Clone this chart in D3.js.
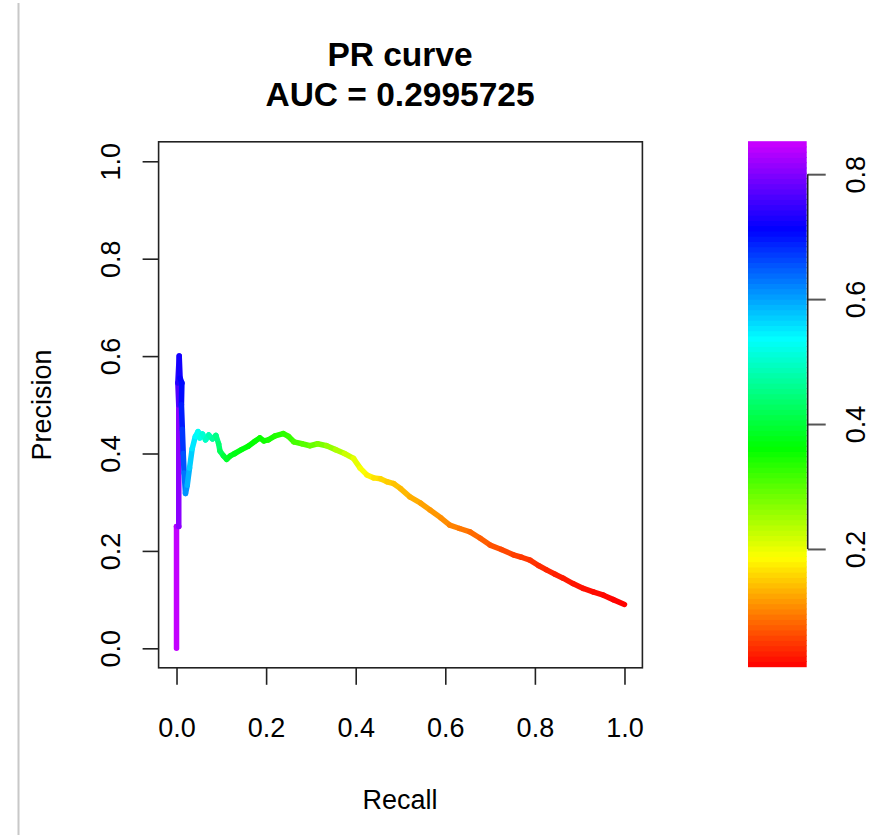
<!DOCTYPE html>
<html>
<head>
<meta charset="utf-8">
<script src="https://cdn.jsdelivr.net/npm/d3@7"></script>
<style>
  html, body { margin: 0; padding: 0; background: #fff; }
  svg { display: block; }
  text { font-family: "Liberation Sans", Arial, sans-serif; fill: #000; }
</style>
</head>
<body>
<svg id="chart" width="881" height="835"></svg>
<script>
// ---- data ----
const titleLines = ["PR curve", "AUC = 0.2995725"];
const xLabel = "Recall";
const yLabel = "Precision";
const axisTicks = [0, 0.2, 0.4, 0.6, 0.8, 1.0];
const colorTicks = [0.2, 0.4, 0.6, 0.8];
const scoreRange = [0.0115, 0.852];

const recall = [0.000,0.000,0.005,0.005,0.003,0.006,0.008,0.012,0.011,0.013,0.015,0.017,0.020,0.024,0.029,0.035,0.042,0.048,0.052,0.058,0.065,0.072,0.080,0.088,0.094,0.097,0.105,0.112,0.120,0.130,0.145,0.160,0.175,0.186,0.195,0.205,0.220,0.238,0.250,0.262,0.280,0.298,0.315,0.335,0.355,0.375,0.395,0.410,0.425,0.440,0.455,0.470,0.485,0.500,0.521,0.545,0.566,0.590,0.610,0.632,0.655,0.678,0.700,0.725,0.752,0.770,0.789,0.808,0.826,0.845,0.863,0.885,0.908,0.930,0.953,0.975,1.000];
const precision = [0.000,0.250,0.250,0.500,0.545,0.600,0.555,0.545,0.500,0.450,0.400,0.360,0.318,0.335,0.370,0.410,0.435,0.445,0.432,0.440,0.428,0.438,0.430,0.437,0.420,0.405,0.395,0.388,0.395,0.400,0.408,0.415,0.425,0.432,0.426,0.428,0.436,0.441,0.435,0.424,0.420,0.416,0.420,0.416,0.408,0.400,0.390,0.370,0.356,0.350,0.348,0.342,0.338,0.328,0.311,0.298,0.284,0.268,0.253,0.246,0.239,0.226,0.212,0.203,0.192,0.187,0.181,0.170,0.161,0.152,0.144,0.133,0.123,0.116,0.109,0.100,0.090];
const score = [0.852,0.840,0.825,0.790,0.745,0.730,0.720,0.712,0.700,0.685,0.665,0.645,0.620,0.600,0.580,0.560,0.545,0.535,0.525,0.515,0.500,0.490,0.475,0.460,0.445,0.430,0.410,0.395,0.385,0.378,0.372,0.366,0.360,0.356,0.352,0.348,0.342,0.335,0.328,0.320,0.308,0.296,0.284,0.270,0.252,0.232,0.212,0.196,0.184,0.172,0.162,0.155,0.148,0.142,0.134,0.126,0.119,0.111,0.105,0.097,0.089,0.080,0.072,0.064,0.057,0.052,0.048,0.043,0.039,0.035,0.031,0.027,0.023,0.020,0.017,0.014,0.0115];

// ---- layout ----
const svg = d3.select("#chart");
const fontSize = 27;

const x = d3.scaleLinear().domain([-0.04, 1.04]).range([158.6, 642.4]);
const y = d3.scaleLinear().domain([-0.04, 1.04]).range([667.8, 141.8]);
const hue = d3.scaleLinear().domain(scoreRange).range([0, 0.8 * 360]);
const colorOf = s => d3.hsl(hue(s), 1, 0.5).formatHex();

// left gray separator line
svg.append("line").attr("x1", 18.5).attr("x2", 18.5).attr("y1", 3).attr("y2", 835)
  .attr("stroke", "#c8c8c8").attr("stroke-width", 2);

// titles
svg.selectAll("text.title").data(titleLines).join("text")
  .attr("class", "title")
  .attr("x", 400).attr("y", (d, i) => 66 + i * 40)
  .attr("text-anchor", "middle")
  .attr("font-weight", "bold")
  .attr("font-size", 33.5)
  .text(d => d);

// curve segments colored by score
const pts = recall.map((r, i) => ({ r, p: precision[i], s: score[i] }));
const segs = d3.pairs(pts);
svg.append("g").selectAll("line").data(segs).join("line")
  .attr("x1", d => x(d[0].r)).attr("y1", d => y(d[0].p))
  .attr("x2", d => x(d[1].r)).attr("y2", d => y(d[1].p))
  .attr("stroke", d => colorOf((d[0].s + d[1].s) / 2))
  .attr("stroke-width", 5.5)
  .attr("stroke-linecap", "round");

// box
svg.append("rect")
  .attr("x", x(-0.04)).attr("y", y(1.04))
  .attr("width", x(1.04) - x(-0.04)).attr("height", y(-0.04) - y(1.04))
  .attr("fill", "none").attr("stroke", "#222").attr("stroke-width", 1.6);

// x axis
const gx = svg.append("g").attr("transform", `translate(0,${y(-0.04)})`)
  .call(d3.axisBottom(x).tickValues(axisTicks).tickFormat(d3.format(".1f")).tickSize(17));
gx.select(".domain").remove();
gx.selectAll(".tick line").attr("stroke", "#222").attr("stroke-width", 1.6);
gx.selectAll(".tick text").attr("y", 69).attr("dy", null)
  .attr("font-size", fontSize).attr("font-family", "Liberation Sans, Arial, sans-serif").attr("fill", "#111");

// y axis
const gy = svg.append("g").attr("transform", `translate(${x(-0.04)},0)`)
  .call(d3.axisLeft(y).tickValues(axisTicks).tickFormat(d3.format(".1f")).tickSize(16));
gy.select(".domain").remove();
gy.selectAll(".tick line").attr("stroke", "#222").attr("stroke-width", 1.6);
gy.selectAll(".tick text").attr("x", null).attr("dy", null).attr("text-anchor", "middle")
  .attr("transform", "translate(-39,0) rotate(-90)")
  .attr("font-size", fontSize).attr("font-family", "Liberation Sans, Arial, sans-serif").attr("fill", "#111");

// axis titles
svg.append("text").attr("x", 400).attr("y", 809).attr("text-anchor", "middle")
  .attr("font-size", fontSize).attr("fill", "#111").text(xLabel);
svg.append("text").attr("transform", "translate(51,405) rotate(-90)").attr("text-anchor", "middle")
  .attr("font-size", fontSize).attr("fill", "#111").text(yLabel);

// color bar
const cb = d3.scaleLinear().domain(scoreRange).range([666.7, 141.7]);
const nColors = 100;
const steps = d3.range(nColors).map(i => scoreRange[0] + (scoreRange[1] - scoreRange[0]) * i / nColors);
const stepH = (scoreRange[1] - scoreRange[0]) / nColors;
svg.append("g").selectAll("rect").data(steps).join("rect")
  .attr("x", 748).attr("width", 58.7)
  .attr("y", d => cb(d + stepH) - 0.5)
  .attr("height", d => cb(d) - cb(d + stepH) + 1)
  .attr("fill", d => colorOf(d + stepH / 2));

const gc = svg.append("g").attr("transform", "translate(807.7,0)")
  .call(d3.axisRight(cb).tickValues(colorTicks).tickFormat(d3.format(".1f")).tickSize(18));
gc.select(".domain").remove();
gc.append("line").attr("x1", 0).attr("x2", 0)
  .attr("y1", cb(colorTicks[0])).attr("y2", cb(colorTicks[colorTicks.length - 1]))
  .attr("stroke", "#222").attr("stroke-width", 1.6);
gc.selectAll(".tick line").attr("stroke", "#555").attr("stroke-width", 2);
gc.selectAll(".tick text").attr("x", null).attr("dy", null).attr("text-anchor", "middle")
  .attr("transform", "translate(57,0) rotate(-90)")
  .attr("font-size", fontSize).attr("font-family", "Liberation Sans, Arial, sans-serif").attr("fill", "#111");
</script>
</body>
</html>
